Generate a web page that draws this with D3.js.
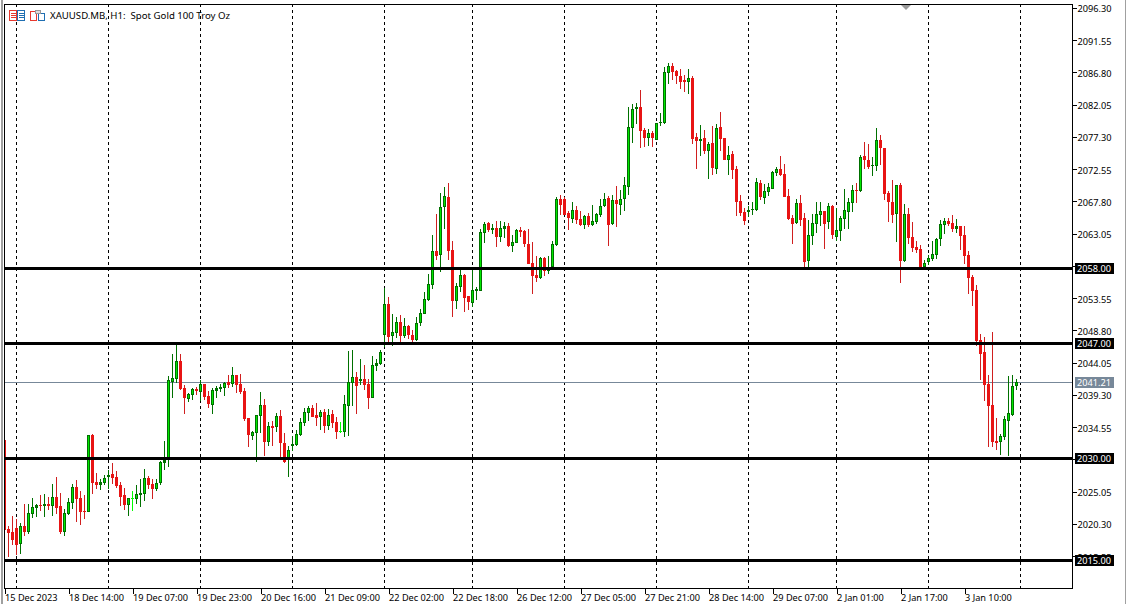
<!DOCTYPE html>
<html><head><meta charset="utf-8">
<script src="https://cdn.jsdelivr.net/npm/d3@7"></script>
<style>
html,body{margin:0;padding:0;background:#fff;overflow:hidden}
svg{display:block}
text{font-family:"Noto Sans",sans-serif;font-size:9.2px;fill:#000}
</style></head><body><div id="chart"></div>
<script>
const title = "XAUUSD.MB, H1:  Spot Gold 100 Troy Oz";
const opens = [2032.67,2019.57,2019.12,2019.71,2017.36,2020.01,2019.12,2021.77,2022.66,2023.10,
2022.95,2023.25,2022.95,2024.28,2022.95,2019.12,2021.77,2023.39,2025.75,2024.13,
2022.22,2022.07,2033.41,2026.49,2026.05,2026.34,2027.22,2027.67,2027.22,2026.05,
2024.57,2023.10,2024.08,2023.98,2024.57,2024.72,2027.08,2026.19,2025.46,2026.34,
2029.29,2029.87,2041.21,2041.66,2044.31,2040.33,2038.71,2039.30,2040.18,2039.74,
2040.92,2039.15,2037.83,2039.89,2040.18,2040.33,2041.21,2040.92,2042.25,2040.92,
2039.89,2035.91,2033.26,2033.70,2036.21,2037.83,2032.38,2034.73,2034.59,2036.21,
2032.23,2029.73,2031.79,2031.94,2033.41,2035.18,2036.65,2037.39,2036.35,2036.06,
2036.80,2034.73,2036.50,2035.32,2033.95,2033.85,2037.68,2041.07,2041.95,2041.36,
2041.66,2040.92,2038.86,2043.57,2043.87,2048.13,2052.70,2047.98,2048.42,2050.04,
2047.98,2049.46,2048.13,2047.39,2049.90,2051.22,2053.28,2055.49,2060.50,2059.91,
2066.98,2068.45,2060.65,2053.14,2055.20,2056.97,2053.87,2052.84,2054.61,2054.61,
2063.15,2064.62,2063.59,2063.89,2062.56,2063.74,2064.18,2061.24,2061.68,2063.59,
2063.45,2061.53,2058.73,2056.97,2056.52,2059.47,2057.56,2058.14,2061.38,2068.16,
2068.16,2066.10,2065.22,2066.54,2065.22,2064.33,2065.66,2064.33,2064.78,2065.81,
2067.13,2068.31,2064.48,2068.02,2067.28,2068.16,2069.93,2078.62,2081.42,2081.71,
2078.32,2077.15,2077.88,2076.85,2079.36,2079.36,2086.72,2087.75,2087.01,2086.28,
2085.69,2085.39,2085.98,2077.29,2076.70,2077.15,2075.23,2076.41,2072.58,2078.77,
2077.15,2073.91,2074.79,2072.58,2067.87,2066.25,2066.25,2066.55,2066.55,2070.52,
2068.31,2069.20,2069.64,2071.99,2072.58,2071.85,2068.61,2065.37,2064.63,2067.58,
2065.37,2059.03,2062.72,2064.48,2065.81,2066.40,2064.78,2067.13,2062.57,2063.45,
2065.22,2066.25,2067.58,2069.49,2069.34,2074.50,2073.91,2073.03,2073.03,2076.85,
2075.68,2069.04,2067.72,2065.95,2070.22,2059.03,2065.95,2062.56,2061.09,2060.80,
2058.14,2058.88,2059.32,2059.91,2062.27,2064.33,2064.92,2064.62,2063.74,2064.18,
2062.86,2059.91,2056.67,2054.76,2047.39,2045.63,2040.91,2037.82,2032.52,2032.37,
2033.11,2035.46,2036.30,2040.62];
const highs = [2032.67,2020.01,2021.48,2021.04,2020.45,2023.25,2023.25,2024.13,2023.25,2024.57,
2024.72,2024.28,2026.19,2027.22,2024.87,2022.51,2024.13,2026.19,2026.78,2025.16,
2024.57,2033.41,2033.56,2027.81,2026.93,2027.52,2028.25,2029.29,2028.11,2026.49,
2025.60,2024.13,2025.16,2026.05,2026.93,2028.40,2027.37,2026.93,2026.93,2029.58,
2032.53,2042.10,2045.34,2046.66,2045.34,2040.77,2039.59,2040.33,2040.48,2041.51,
2040.92,2039.89,2040.33,2040.63,2040.92,2041.21,2042.25,2043.42,2042.25,2042.39,
2040.33,2035.91,2034.00,2036.35,2039.74,2038.71,2035.32,2035.47,2036.65,2037.09,
2033.70,2031.79,2033.26,2034.15,2035.91,2037.39,2037.68,2037.83,2038.12,2037.09,
2037.24,2037.24,2037.09,2036.06,2035.32,2039.30,2045.78,2045.93,2042.69,2044.60,
2043.72,2041.66,2045.04,2044.60,2045.93,2055.00,2053.73,2051.22,2050.78,2051.08,
2050.63,2049.60,2048.87,2050.78,2051.96,2054.46,2057.11,2062.86,2065.95,2069.04,
2069.93,2070.52,2061.97,2055.79,2057.70,2057.11,2053.87,2057.70,2055.20,2063.74,
2064.77,2064.77,2064.48,2064.92,2064.92,2064.77,2064.62,2062.86,2063.74,2064.04,
2063.59,2063.74,2061.83,2059.76,2059.62,2059.62,2059.76,2061.97,2068.45,2068.75,
2068.45,2066.40,2067.72,2067.13,2066.40,2065.81,2066.10,2067.28,2066.10,2068.16,
2069.05,2068.60,2068.75,2070.08,2069.49,2071.40,2081.71,2082.15,2082.30,2084.22,
2078.62,2078.47,2078.18,2079.36,2080.83,2087.60,2088.19,2088.19,2087.16,2087.31,
2086.42,2087.31,2086.28,2077.88,2079.06,2078.32,2076.56,2078.91,2079.21,2080.98,
2077.15,2075.97,2075.23,2073.02,2068.75,2066.84,2067.13,2067.72,2071.26,2070.96,
2070.37,2070.52,2072.29,2072.88,2074.50,2073.32,2069.64,2065.81,2068.17,2068.75,
2066.10,2065.07,2065.96,2067.72,2067.72,2066.40,2067.58,2067.28,2066.84,2065.66,
2069.64,2068.31,2070.23,2070.52,2074.65,2076.56,2076.27,2074.35,2078.62,2077.59,
2075.68,2069.34,2070.96,2070.22,2070.52,2067.42,2066.83,2064.77,2061.97,2061.38,
2059.18,2059.91,2061.97,2062.42,2065.07,2065.36,2065.36,2065.80,2065.21,2064.18,
2064.18,2060.50,2056.97,2055.49,2048.28,2047.84,2042.24,2048.57,2035.91,2033.55,
2036.20,2042.09,2042.24,2041.65];
const lows = [2019.42,2015.49,2017.21,2015.74,2015.88,2018.53,2018.83,2021.19,2021.33,2022.22,
2021.33,2022.36,2021.48,2021.77,2018.83,2018.53,2021.63,2022.51,2020.60,2020.16,
2021.04,2022.07,2024.72,2025.46,2025.31,2026.05,2025.46,2026.19,2025.60,2022.95,
2022.36,2021.48,2022.22,2023.25,2022.81,2023.69,2025.46,2023.98,2025.16,2026.05,
2028.25,2028.70,2038.86,2041.07,2040.04,2036.50,2038.27,2038.56,2039.30,2038.42,
2038.56,2037.39,2036.50,2038.86,2039.74,2039.15,2040.33,2040.48,2039.59,2039.45,
2035.47,2031.64,2032.67,2029.43,2033.70,2030.32,2031.79,2031.79,2033.85,2030.17,
2029.29,2027.22,2031.05,2031.79,2033.26,2034.73,2035.47,2036.06,2034.73,2034.15,
2033.70,2034.15,2034.44,2032.82,2033.70,2033.11,2033.26,2037.68,2036.50,2040.77,
2040.04,2037.24,2038.86,2042.83,2043.72,2046.41,2046.90,2046.51,2047.69,2047.10,
2047.69,2047.54,2047.10,2047.25,2049.46,2051.22,2053.14,2054.90,2059.18,2057.41,
2063.74,2059.18,2050.78,2051.96,2054.46,2051.52,2051.81,2052.25,2053.28,2054.61,
2061.68,2063.30,2063.00,2061.09,2061.83,2062.42,2061.09,2060.35,2061.68,2062.56,
2061.09,2058.59,2054.17,2055.94,2056.38,2056.82,2057.11,2058.14,2061.24,2065.80,
2065.80,2063.60,2064.63,2064.48,2064.19,2063.74,2064.04,2064.19,2064.48,2065.51,
2066.98,2061.24,2064.33,2064.04,2065.81,2066.40,2068.75,2076.41,2079.21,2075.67,
2075.82,2075.97,2075.82,2076.85,2078.91,2079.21,2085.10,2085.69,2085.10,2084.36,
2083.92,2083.63,2076.26,2072.58,2074.50,2074.79,2071.11,2071.70,2071.84,2075.23,
2073.91,2071.70,2071.11,2065.66,2065.66,2064.33,2065.51,2065.81,2066.40,2068.02,
2067.43,2068.61,2069.64,2071.55,2071.55,2068.46,2065.07,2061.54,2064.48,2064.19,
2058.15,2058.15,2061.39,2063.16,2064.19,2060.80,2063.75,2062.27,2061.98,2061.98,
2063.75,2063.75,2066.25,2067.58,2069.20,2072.58,2072.58,2071.55,2072.29,2073.17,
2068.02,2064.77,2064.62,2061.83,2055.79,2058.88,2061.53,2060.35,2060.21,2057.99,
2057.99,2058.44,2059.03,2059.32,2061.24,2063.00,2064.18,2063.30,2063.15,2060.65,
2058.59,2054.17,2052.40,2046.51,2041.50,2038.41,2031.64,2031.64,2031.19,2030.46,
2032.67,2030.31,2036.20,2040.03];
const closes = [2019.42,2018.98,2017.95,2017.21,2020.01,2019.12,2021.92,2022.81,2023.10,2022.95,
2023.25,2022.95,2024.28,2022.66,2019.12,2021.92,2023.54,2025.75,2023.98,2022.07,
2022.07,2033.41,2026.34,2026.05,2026.49,2027.08,2027.52,2027.08,2025.90,2024.28,
2023.10,2024.13,2024.08,2024.72,2024.87,2027.08,2026.05,2025.46,2026.34,2029.43,
2029.73,2041.51,2041.80,2044.31,2040.18,2038.86,2039.45,2040.18,2039.89,2040.92,
2039.01,2037.97,2040.04,2040.33,2040.48,2041.07,2040.77,2042.25,2040.77,2039.74,
2035.77,2033.41,2033.85,2036.35,2037.83,2032.38,2034.73,2034.44,2036.21,2032.23,
2029.43,2031.20,2032.08,2033.56,2035.32,2036.80,2037.39,2036.06,2035.91,2036.80,
2034.73,2036.35,2035.18,2033.85,2033.95,2037.97,2041.21,2041.95,2040.63,2041.66,
2040.77,2038.86,2043.72,2044.01,2045.63,2052.70,2047.84,2048.57,2050.04,2047.98,
2049.46,2048.13,2047.39,2049.90,2051.37,2053.43,2055.64,2060.50,2059.76,2066.98,
2068.60,2060.50,2053.14,2055.35,2056.97,2053.58,2052.99,2054.76,2054.90,2063.30,
2064.48,2063.59,2063.89,2062.56,2063.89,2064.18,2061.24,2061.83,2063.59,2063.30,
2061.53,2058.59,2056.82,2056.52,2059.47,2057.56,2057.70,2061.53,2068.16,2067.28,
2065.80,2065.36,2066.54,2065.07,2064.33,2065.66,2064.33,2064.92,2065.95,2067.13,
2068.16,2064.33,2068.02,2067.43,2068.16,2070.22,2078.77,2081.42,2081.71,2078.18,
2077.15,2077.88,2077.15,2079.36,2079.50,2086.87,2087.75,2086.87,2086.28,2085.39,
2085.39,2085.98,2077.00,2076.70,2077.00,2075.23,2076.26,2072.73,2078.62,2077.00,
2073.91,2074.64,2072.43,2067.72,2066.10,2064.92,2066.54,2066.69,2070.67,2068.46,
2069.34,2069.93,2072.14,2072.58,2071.70,2068.46,2065.22,2064.48,2067.58,2065.07,
2058.89,2062.86,2064.63,2065.96,2066.40,2064.48,2067.13,2062.86,2063.60,2065.37,
2066.55,2067.72,2069.49,2069.34,2074.35,2073.91,2072.88,2073.17,2076.85,2075.68,
2068.90,2067.72,2065.80,2070.22,2059.03,2065.95,2062.42,2060.94,2060.65,2058.14,
2058.73,2059.47,2060.06,2062.27,2064.48,2064.92,2064.48,2063.74,2064.18,2062.71,
2059.76,2056.52,2054.61,2047.25,2045.33,2040.77,2037.67,2032.37,2032.23,2033.26,
2035.76,2036.64,2040.62,2041.21];
const separatorBars = [3,26,49,72,95,117,140,163,186,208,231,254];
const timeTickBars = [0,16,32,48,64,80,96,112,128,144,160,176,192,208,224,240];
const timeTickLabels = ["15 Dec 2023","18 Dec 14:00","19 Dec 07:00","19 Dec 23:00","20 Dec 16:00","21 Dec 09:00","22 Dec 02:00","22 Dec 18:00","26 Dec 12:00","27 Dec 05:00","27 Dec 21:00","28 Dec 14:00","29 Dec 07:00","2 Jan 01:00","2 Jan 17:00","3 Jan 10:00"];
const priceTicks = [2096.30,2091.55,2086.80,2082.05,2077.30,2072.55,2067.80,2063.05,2058.30,2053.55,2048.80,2044.05,2039.30,2034.55,2029.80,2025.05,2020.30,2015.55];
const levels = [2058,2047,2030,2015];
const lastPrice = 2041.21;

const W=1126,H=604,L=4,T=4,R=1072,B=588;
const x=d3.scaleLinear().domain([0,1]).range([4.5,8.5]);
const y=d3.scaleLinear().domain([2058,2015]).range([268,560]);
const svg=d3.select("#chart").append("svg").attr("width",W).attr("height",H).attr("shape-rendering","crispEdges");
const UP="#007000",UPF="#00e800",DN="#e81414",DNW="#d01f1f",DOJI="#00ff00";

svg.append("rect").attr("x",1).attr("y",0).attr("width",2).attr("height",H).attr("fill","#a0a0a0");
svg.append("rect").attr("x",1125).attr("y",0).attr("width",1).attr("height",H).attr("fill","#a0a0a0");
svg.append("defs").append("clipPath").attr("id","plot").append("rect").attr("x",L+1).attr("y",T+1).attr("width",R-L-1).attr("height",B-T-1);

const plot=svg.append("g").attr("clip-path","url(#plot)");
plot.selectAll("line.sep").data(separatorBars).join("line").attr("class","sep")
  .attr("x1",d=>x(d)).attr("x2",d=>x(d)).attr("y1",T).attr("y2",B)
  .attr("stroke","#000").attr("stroke-dasharray","3,3");

plot.append("line").attr("x1",L).attr("x2",R).attr("y1",Math.round(y(lastPrice))+.5).attr("y2",Math.round(y(lastPrice))+.5).attr("stroke","#778899");

const bars=opens.map((o,i)=>({i,o,h:highs[i],l:lows[i],c:closes[i]}));
const col=d=>d.c>d.o?UP:(d.c<d.o?DN:DOJI);
const g=plot.selectAll("g.bar").data(bars).join("g").attr("class","bar");
g.append("rect").attr("x",d=>x(d.i)-.5).attr("width",1)
  .attr("y",d=>Math.round(y(d.h))).attr("height",d=>Math.max(1,Math.round(y(d.l))-Math.round(y(d.h))))
  .attr("fill",d=>d.c<d.o?DNW:col(d));
g.append("rect").attr("x",d=>x(d.i)-1.5).attr("width",3)
  .attr("y",d=>Math.round(y(Math.max(d.o,d.c))))
  .attr("height",d=>Math.max(1,Math.round(y(Math.min(d.o,d.c)))-Math.round(y(Math.max(d.o,d.c)))))
  .attr("fill",col);
g.filter(d=>d.c>d.o && y(d.o)-y(d.c)>=3).append("rect").attr("x",d=>x(d.i)-.5).attr("width",1)
  .attr("y",d=>Math.round(y(d.c))+1)
  .attr("height",d=>Math.round(y(d.o))-Math.round(y(d.c))-2)
  .attr("fill",UPF);

plot.selectAll("rect.level").data(levels).join("rect").attr("class","level")
  .attr("x",L).attr("width",R-L).attr("y",d=>Math.round(y(d))-1).attr("height",3).attr("fill","#000");

svg.append("rect").attr("x",L+.5).attr("y",T+.5).attr("width",R-L).attr("height",B-T).attr("fill","none").attr("stroke","#000");

// price axis
const yAxis=d3.axisRight(y).tickValues(priceTicks).tickSize(4).tickPadding(1).tickFormat(d3.format(".2f"));
const ya=svg.append("g").attr("transform",`translate(${R+.5},0)`).call(yAxis);
ya.select(".domain").remove();
ya.selectAll(".tick text").attr("style",null).attr("y",0.6).attr("dy",".36em");

// time axis
const xAxis=d3.axisBottom(x).tickValues(timeTickBars).tickSize(5).tickPadding(1).tickFormat((d,i)=>timeTickLabels[i]);
const xa=svg.append("g").attr("transform",`translate(0,${B+.5})`).call(xAxis);
xa.select(".domain").remove();
xa.selectAll(".tick text").attr("text-anchor","start").attr("x",0);

// price tags
const tags=levels.map(v=>({v,fill:"#000",txt:v.toFixed(2)})).concat([{v:lastPrice,fill:"#778899",txt:lastPrice.toFixed(2)}]);
const tg=svg.selectAll("g.tag").data(tags).join("g").attr("class","tag");
tg.append("rect").attr("x",1075).attr("width",39).attr("y",d=>Math.round(y(d.v))-5).attr("height",11).attr("fill",d=>d.fill);
tg.append("text").attr("x",1077).attr("y",d=>Math.round(y(d.v))+.5).attr("dy",".36em").style("fill","#fff").text(d=>d.txt);

// header
const ic=svg.append("g");
[[9,"#e8392e"],[17,"#1f6fb2"]].forEach(([a,c])=>{
  ic.append("rect").attr("x",a+.5).attr("y",10.5).attr("width",7).attr("height",10).attr("fill","#fff").attr("stroke",c);
  [13,15,17].forEach(b=>ic.append("rect").attr("x",a+2).attr("y",b).attr("width",5).attr("height",1).attr("fill",c));
});
ic.append("rect").attr("x",30.5).attr("y",11.5).attr("width",6).attr("height",9).attr("fill","#fff").attr("stroke","#e8392e");
ic.append("rect").attr("x",38.5).attr("y",13.5).attr("width",6).attr("height",7).attr("fill","#fff").attr("stroke","#1f6fb2");
ic.append("rect").attr("x",35.5).attr("y",10.5).attr("width",5).attr("height",3).attr("fill","#ddd").attr("stroke","#999");
svg.append("text").attr("x",50).attr("y",16).attr("dy",".36em").style("font-size","9.65px").style("white-space","pre").text(title);
svg.append("path").attr("d",d3.line()([[901,5],[911,5],[906,10]])).attr("fill","#9a9a9a").attr("shape-rendering","auto");
</script></body></html>
